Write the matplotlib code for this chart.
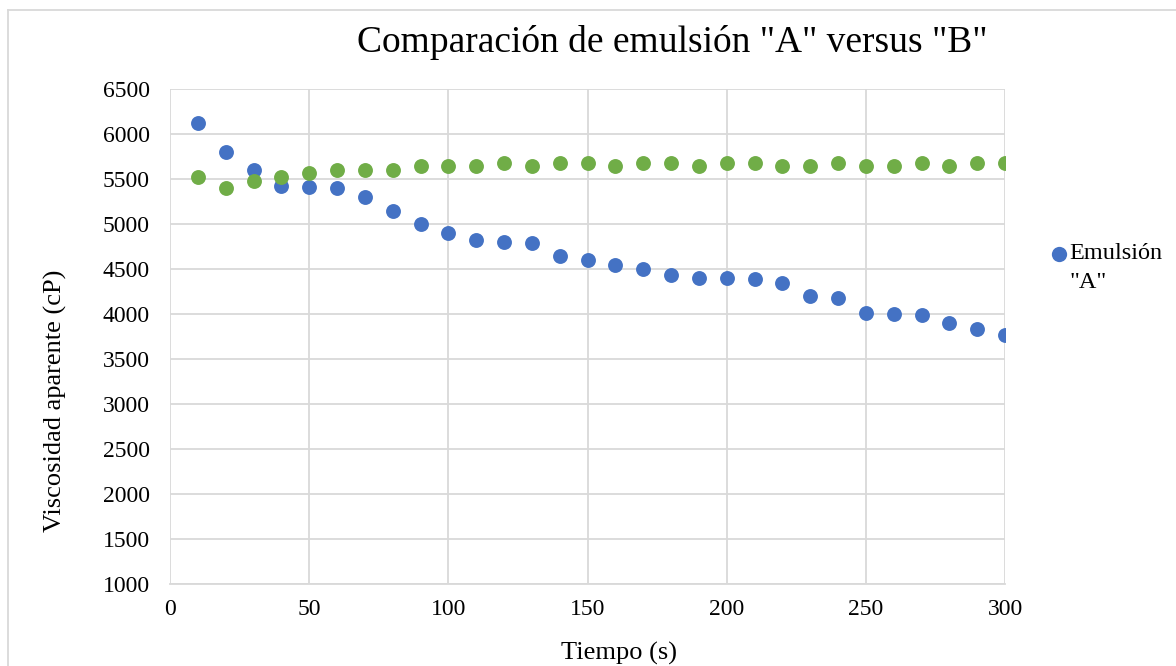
import matplotlib
matplotlib.use("Agg")
import matplotlib.pyplot as plt
from matplotlib.lines import Line2D
from matplotlib.legend_handler import HandlerLine2D

plt.rcParams['font.family'] = ['Liberation Serif', 'DejaVu Serif']

tiempo = [10, 20, 30, 40, 50, 60, 70, 80, 90, 100, 110, 120, 130, 140, 150,
          160, 170, 180, 190, 200, 210, 220, 230, 240, 250, 260, 270, 280, 290, 300]
emulsion_a = [6120, 5800, 5600, 5420, 5410, 5400, 5300, 5150, 5000, 4900,
              4820, 4800, 4790, 4650, 4600, 4550, 4500, 4430, 4400, 4400,
              4390, 4350, 4200, 4180, 4010, 4000, 3990, 3900, 3830, 3770]
emulsion_b = [5520, 5400, 5480, 5520, 5570, 5600, 5600, 5600, 5640, 5640,
              5640, 5680, 5640, 5680, 5680, 5640, 5680, 5680, 5640, 5680,
              5680, 5640, 5640, 5680, 5640, 5640, 5680, 5640, 5680, 5680]
x_ticks = [0, 50, 100, 150, 200, 250, 300]
y_ticks = [1000, 1500, 2000, 2500, 3000, 3500, 4000, 4500, 5000, 5500, 6000, 6500]

title = 'Comparación de emulsión "A" versus "B"'
xlabel = 'Tiempo (s)'
ylabel = 'Viscosidad aparente (cP)'
label_a = 'Emulsión\n"A"'

blue = '#4472C4'
green = '#70AD47'
grid_c = '#D9D9D9'


class UpHandler(HandlerLine2D):
    def __init__(self, dy, **kw):
        super().__init__(**kw)
        self.dy = dy

    def create_artists(self, legend, orig_handle, xdescent, ydescent,
                       width, height, fontsize, trans):
        arts = super().create_artists(legend, orig_handle, xdescent, ydescent,
                                      width, height, fontsize, trans)
        for a in arts:
            a.set_ydata([v + self.dy for v in a.get_ydata()])
        return arts


W, H = 1176, 666
fig = plt.figure(figsize=(W / 100, H / 100), dpi=100)
ax = fig.add_axes([170/W, 1-584/H, (1005-170)/W, (584-89)/H])

ax.scatter(tiempo, emulsion_a, s=115, color=blue, zorder=3, linewidths=0)
ax.scatter(tiempo, emulsion_b, s=115, color=green, zorder=3, linewidths=0)

ax.set_xlim(0, 300)
ax.set_ylim(1000, 6500)
ax.set_xticks(x_ticks)
ax.set_yticks(y_ticks)
ax.grid(True, color=grid_c, linewidth=1.3, zorder=0)
ax.set_axisbelow(True)
for s in ['top', 'right', 'left']:
    ax.spines[s].set_visible(False)
ax.spines['bottom'].set_color(grid_c)
ax.spines['bottom'].set_linewidth(1.3)
ax.tick_params(length=0, labelsize=17)
ax.tick_params(axis='y', pad=14.5)
ax.tick_params(axis='x', pad=11)

fig.text(619/W, 1-653/H, xlabel, fontsize=19, ha='center', va='center')
fig.text(55/W, 1-401/H, ylabel, fontsize=19, ha='center', va='center',
         rotation=90)
fig.text(672/W, 1-43/H, title, fontsize=27, ha='center', va='center')

handle = Line2D([], [], marker='o', linestyle='none', markersize=11,
                markerfacecolor=blue, markeredgewidth=0)
leg = fig.legend([handle], [label_a], loc='center left',
                 bbox_to_anchor=(1044/W, 1-268/H), frameon=False,
                 fontsize=17.5, handletextpad=-0.15, borderaxespad=0,
                 handlelength=1.2, borderpad=0,
                 handler_map={handle: UpHandler(10)})
for t in leg.get_texts():
    t.set_linespacing(1.5)

# figure border (left and top visible)
fig.add_artist(Line2D([8/W, 8/W], [0, 1-10/H], color=grid_c,
                      linewidth=1.3, transform=fig.transFigure))
fig.add_artist(Line2D([8/W, 1], [1-10/H, 1-10/H], color=grid_c,
                      linewidth=1.3, transform=fig.transFigure))

fig.savefig('out.png', dpi=100)
